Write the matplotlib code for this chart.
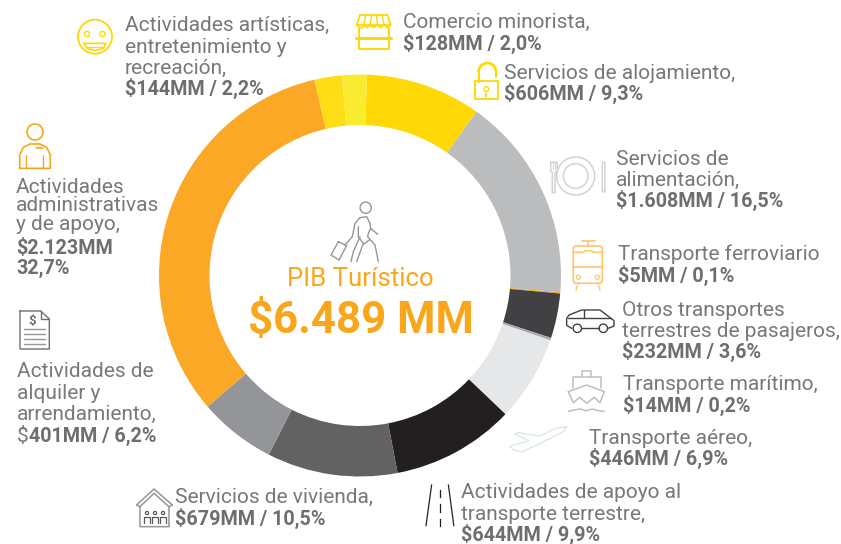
import matplotlib
matplotlib.use('Agg')
import matplotlib.pyplot as plt
from matplotlib.patches import Circle, Polygon, Rectangle, FancyBboxPatch, Arc

plt.rcParams['font.family'] = ['Roboto', 'DejaVu Sans']

# sectors, clockwise
sectors = ['Servicios de alojamiento', 'Servicios de alimentación', 'Transporte ferroviario',
           'Otros transportes terrestres de pasajeros', 'Transporte marítimo', 'Transporte aéreo',
           'Actividades de apoyo al transporte terrestre', 'Servicios de vivienda',
           'Actividades de alquiler y arrendamiento', 'Actividades administrativas y de apoyo',
           'Actividades artísticas, entretenimiento y recreación', 'Comercio minorista']
shares = [9.3, 16.5, 0.1, 3.6, 0.2, 6.9, 9.9, 10.5, 6.2, 32.7, 2.2, 2.0]
colors = ['#ffd805', '#bbbcbe', '#f9a61a', '#414042', '#a7a9ac', '#e6e7e8',
          '#231f20', '#626262', '#939598', '#fba827', '#fedd17', '#f9ec30']

total_label = 'PIB Turístico'
total_value = '$6.489 MM'

gray = '#6d6e71'
gray_light = '#77787b'
orange = '#f9a61a'
yellow = '#ffd805'
W, H = 841, 544
cx, cy, R, r = 360, 275.5, 201, 150.5

fig = plt.figure(figsize=(W / 100, H / 100), dpi=100)

ax_pie = fig.add_axes([(cx - R) / W, 1 - (cy + R) / H, 2 * R / W, 2 * R / H])
ax_pie.pie(shares, colors=colors, startangle=88, counterclock=False, radius=1,
           wedgeprops=dict(width=1 - r / R, linewidth=0))
ax_pie.set_xlim(-1, 1)
ax_pie.set_ylim(-1, 1)
ax_pie.axis('off')

# overlay in image pixels
ax = fig.add_axes([0, 0, 1, 1])
ax.set_xlim(0, W)
ax.set_ylim(H, 0)
ax.axis('off')
ax.patch.set_alpha(0)

FS = 15.05
FS_BOLD = 14.2


def label(x, lines, bold_lines, baselines):
    all_lines = [(t, False) for t in lines] + [(t, True) for t in bold_lines]
    for (t, b), y in zip(all_lines, baselines):
        ax.text(x, y, t, fontsize=FS_BOLD if b else FS, fontweight='bold' if b else 'normal',
                color=gray if b else gray_light, va='baseline', ha='left', parse_math=False)


label(125, ['Actividades artísticas,', 'entretenimiento y', 'recreación,'], ['$144MM / 2,2%'], [31, 53, 74, 95])
label(403, ['Comercio minorista,'], ['$128MM / 2,0%'], [28, 50])
label(504, ['Servicios de alojamiento,'], ['$606MM / 9,3%'], [79, 100])
label(616, ['Servicios de', 'alimentación,'], ['$1.608MM / 16,5%'], [165, 186, 207])
label(618, ['Transporte ferroviario'], ['$5MM / 0,1%'], [260, 282])
label(622, ['Otros transportes', 'terrestres de pasajeros,'], ['$232MM / 3,6%'], [316, 337, 358])
label(623, ['Transporte marítimo,'], ['$14MM / 0,2%'], [390, 412])
label(589, ['Transporte aéreo,'], ['$446MM / 6,9%'], [444, 465])
label(461, ['Actividades de apoyo al', 'transporte terrestre,'], ['$644MM / 9,9%'], [498, 520, 541])
label(175, ['Servicios de vivienda,'], ['$679MM / 10,5%'], [503, 525])
label(16, ['Actividades', 'administrativas', 'y de apoyo,'], ['$2.123MM', '32,7%'], [193, 211, 230, 254, 274])
label(17, ['Actividades de', 'alquiler y', 'arrendamiento,'], [], [377, 399, 420])
# the dollar sign of this one is not bold in the original
t0 = ax.text(17, 442, '$', fontsize=FS, color=gray_light, va='baseline', parse_math=False)
fig.canvas.draw()
bb = t0.get_window_extent()
ax.text(bb.x1 + 0.5, 442, '401MM / 6,2%', fontsize=FS_BOLD, fontweight='bold', color=gray, va='baseline')

ax.text(360.5, 286, total_label, fontsize=18.5, color=orange, ha='center', va='baseline')
ax.text(361, 333, total_value, fontsize=31.5, fontweight='bold', color=orange, ha='center',
        va='baseline', parse_math=False)


def pl(pts, ox, oy, c, lw=1.1, s=3.0, closed=False):
    xy = [(ox + x / s, oy + y / s) for x, y in pts]
    if closed:
        xy.append(xy[0])
    ax.plot([p[0] for p in xy], [p[1] for p in xy], color=c, lw=lw, solid_capstyle='round',
            solid_joinstyle='round')


def circ(x, y, rad, c, lw=1.1):
    ax.add_patch(Circle((x, y), rad, fill=False, ec=c, lw=lw))


# smiley
circ(95, 36.7, 17, yellow, 1.3)
circ(87, 34, 2.6, yellow, 1)
circ(102.5, 34, 2.6, yellow, 1)
pl([(252, 130), (318, 130), (310, 145), (285, 152), (262, 145)], 0, 0, yellow, 1.2, closed=True)
pl([(258, 140), (312, 140)], 0, 0, yellow, 0.9)

# person
circ(35, 132, 8, orange, 1.2)
pl([(59, 505), (59, 465), (70, 442), (90, 432), (120, 432), (140, 442), (151, 465), (151, 505)], 0, 0, orange, 1.2, closed=True)
pl([(78, 465), (78, 505)], 0, 0, orange, 1)
pl([(130, 465), (130, 505)], 0, 0, orange, 1)
pl([(108, 444), (128, 444)], 0, 0, orange, 1.2)

# shop
pl([(30, 30), (113, 30), (122, 60), (20, 60)], 350, 5, yellow, 1.3, closed=True)
for xa, xb in [(47, 42), (65, 60), (80, 82), (97, 102)]:
    pl([(xa, 30), (xb, 60)], 350, 5, yellow, 1)
pl([(20, 60), (28, 68), (38, 68), (42, 60), (52, 68), (60, 60), (70, 68), (82, 60), (92, 68), (102, 60), (112, 68), (122, 60)], 350, 5, yellow, 1.2)
pl([(28, 68), (28, 133), (116, 133), (116, 68)], 350, 5, yellow, 1.4)
pl([(18, 100), (124, 100)], 350, 5, yellow, 2.2)

# lock
ax.add_patch(Rectangle((475.3, 81), 22.4, 18.3, fill=False, ec=yellow, lw=1.3))
ax.add_patch(Arc((487.3, 72), 17.5, 18, theta1=180, theta2=360, ec=yellow, lw=2))
pl([(388, 230), (388, 201)], 350, 5, yellow, 1.5)
pl([(437, 201), (437, 216)], 350, 5, yellow, 1.5)
circ(486.3, 89, 2.4, yellow, 1)
pl([(408, 265), (408, 275)], 350, 5, yellow, 1.2)

# plate and cutlery
plate = '#d1d2d4'
circ(575.7, 176, 19, plate)
circ(575.7, 176, 12.3, plate)
pl([(152, 67), (172, 67), (172, 92), (165, 98), (165, 158), (157, 158), (157, 98), (152, 92)], 500, 140, plate, closed=True)
pl([(159, 67), (159, 88)], 500, 140, plate, 0.7)
pl([(165, 67), (165, 88)], 500, 140, plate, 0.7)
ax.add_patch(FancyBboxPatch((602.3, 162), 2.6, 30, boxstyle='round,pad=0,rounding_size=1.3', fill=False, ec=plate, lw=1.1))

# train
train = '#fbc56a'
ax.add_patch(FancyBboxPatch((573.3, 246), 29, 37.3, boxstyle='round,pad=0,rounding_size=3', fill=False, ec=train, lw=1.2))
pl([(245, 303), (285, 303)], 500, 140, train, 1.2)
pl([(265, 303), (265, 318)], 500, 140, train, 1.1)
pl([(220, 337), (250, 337), (255, 332), (275, 332), (280, 337), (307, 337)], 500, 140, train, 1.1)
pl([(220, 380), (307, 380)], 500, 140, train, 1.1)
circ(578.3, 277.3, 2, train, 0.9)
circ(597.3, 277.3, 2, train, 0.9)
pl([(233, 435), (228, 450)], 500, 140, train, 1)
pl([(295, 435), (300, 450)], 500, 140, train, 1)

# car
car = '#414042'
pl([(215, 565), (200, 556), (200, 535), (207, 525), (245, 510), (300, 510), (333, 535), (342, 542), (342, 558), (325, 565)], 500, 140, car, 1)
pl([(245, 565), (297, 565)], 500, 140, car, 1)
pl([(205, 535), (333, 535)], 500, 140, car, 1)
pl([(252, 510), (252, 535)], 500, 140, car, 1)
circ(577.3, 328.3, 4.2, car, 1)
circ(603.3, 328.3, 4.2, car, 1)

# ship
ship = '#bcbec0'
pl([(232, 50), (232, 32), (258, 32), (258, 50)], 505, 360, ship)
pl([(203, 85), (203, 50), (287, 50), (287, 85)], 505, 360, ship)
pl([(190, 95), (245, 75), (298, 95), (285, 128), (268, 112), (245, 130), (224, 112), (205, 128)], 505, 360, ship, closed=True)
pl([(190, 154), (208, 150), (225, 147), (243, 152), (262, 147), (280, 152), (298, 154)], 505, 360, ship)

# plane
plane = '#dbe8e6'
pl([(185, 200), (150, 205), (105, 228), (38, 218), (30, 222), (72, 243), (15, 258), (25, 270), (50, 276), (110, 248), (175, 215)], 505, 360, plane, 1, closed=True)

# road
road = '#231f20'
ax.plot([431.6, 426], [485, 525.6], color=road, lw=0.9)
ax.plot([448.4, 453.8], [485, 525.6], color=road, lw=0.9)
for y0, y1 in [(490, 497), (504, 512), (519, 526)]:
    ax.plot([439.7, 439.7], [y0, y1], color=road, lw=0.9)

# house
house = '#939598'
pl([(20, 60), (72, 12), (127, 60)], 130, 485, house, 1.1)
pl([(30, 65), (72, 25), (117, 65)], 130, 485, house, 1.1)
pl([(20, 60), (30, 65), (30, 125), (117, 125), (117, 65), (127, 60)], 130, 485, house, 1.1)
for px in [147, 155, 163]:
    circ(px, 513, 1.6, '#58595b', 0.9)
    pl([((px - 3 - 130) * 3, 523 * 3 - 1455), ((px - 3 - 130) * 3, 517 * 3 - 1455), ((px + 3 - 130) * 3, 517 * 3 - 1455), ((px + 3 - 130) * 3, 523 * 3 - 1455)], 130, 485, '#58595b', 0.9)

# document
doc = '#6d6e71'
pl([(30, 18), (92, 18), (118, 42), (118, 132), (30, 132)], 10, 305, doc, 1, closed=True)
pl([(92, 18), (92, 42), (118, 42)], 10, 305, doc, 1)
for y in [72, 87, 102, 118]:
    pl([(43, y), (105, y)], 10, 305, '#939598', 1)
ax.text(32, 325, '$', fontsize=9.5, fontweight='bold', color=doc, ha='center', va='baseline', parse_math=False)

# walking man with suitcase
man = '#939598'
circ(365.7, 207.7, 5.6, man, 1)
pl([(82, 125), (90, 85), (105, 68), (125, 65), (135, 85), (137, 100), (158, 118)], 325, 195, man, 1)
pl([(137, 100), (130, 115), (128, 125), (150, 150), (160, 200)], 325, 195, man, 1)
pl([(100, 95), (100, 125), (115, 145), (95, 200)], 325, 195, man, 1)
pl([(105, 125), (85, 170), (78, 200)], 325, 195, man, 1)
pl([(115, 148), (133, 135)], 325, 195, man, 1)
pl([(40, 140), (65, 152), (42, 195), (18, 180)], 325, 195, man, 1, closed=True)
pl([(60, 150), (82, 125)], 325, 195, man, 1)

fig.savefig('out.png', dpi=100)
